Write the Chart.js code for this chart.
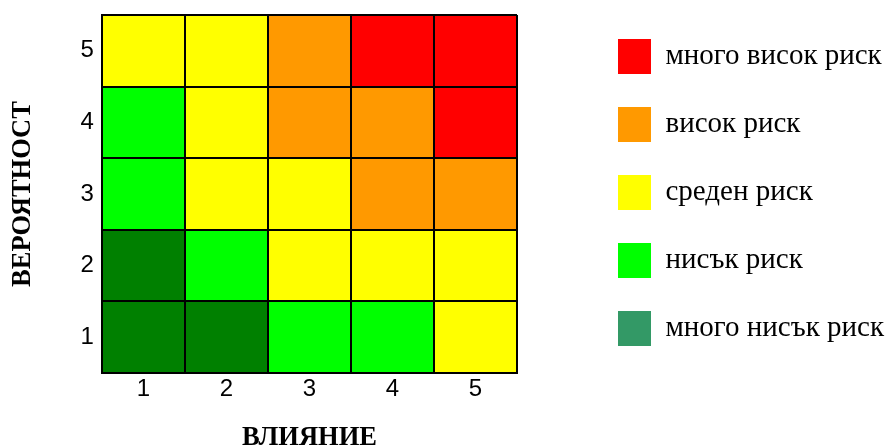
<!DOCTYPE html>
<html>
<head>
<meta charset="utf-8">
<script src="https://cdn.jsdelivr.net/npm/chart.js@4/dist/chart.umd.min.js"></script>
<style>
  body { margin: 0; background: #fff; }
  #wrap { width: 887px; height: 448px; }
</style>
</head>
<body>
<div id="wrap"><canvas id="risk-matrix"></canvas></div>
<script>
// impact (x) and likelihood (y) categories
const impact = ['1', '2', '3', '4', '5'];
const likelihood = [1, 2, 3, 4, 5];

// risk level of each cell, one array per likelihood row (columns = impact 1..5)
// 0 = много нисък, 1 = нисък, 2 = среден, 3 = висок, 4 = много висок
const row1 = [0, 0, 1, 1, 2];
const row2 = [0, 1, 2, 2, 2];
const row3 = [1, 2, 2, 3, 3];
const row4 = [1, 2, 3, 3, 4];
const row5 = [2, 2, 3, 4, 4];
const rows = [row1, row2, row3, row4, row5];

const riskNames = ['много нисък риск', 'нисък риск', 'среден риск', 'висок риск', 'много висок риск'];
const cellColors = ['#008000', '#00ff00', '#ffff00', '#ff9900', '#ff0000'];
const legendColors = ['#339966', '#00ff00', '#ffff00', '#ff9900', '#ff0000'];

const tickFont = { family: '"Liberation Sans", Arial, sans-serif', size: 24 };
const titleFont = { family: '"Liberation Serif", "Times New Roman", serif', size: 26.5, weight: 'bold', lineHeight: 1 };
const lineStyle = { color: '#000', lineWidth: 2, drawTicks: false, offset: true, z: 1 };

new Chart(document.getElementById('risk-matrix'), {
  type: 'bar',
  data: {
    labels: impact,
    datasets: rows.map((levels, i) => ({
      label: 'ред ' + likelihood[i],
      data: levels.map(() => [likelihood[i] - 0.5, likelihood[i] + 0.5]),
      backgroundColor: levels.map((l) => cellColors[l]),
      borderWidth: 0,
      grouped: false,
      barPercentage: 1,
      categoryPercentage: 1,
    })),
  },
  options: {
    responsive: true,
    maintainAspectRatio: false,
    animation: false,
    layout: {
      padding: { top: 6, left: 0, right: 0, bottom: 0 },
    },
    scales: {
      x: {
        offset: true,
        grid: lineStyle,
        border: { display: true, color: '#000', width: 2, z: 1 },
        ticks: { color: '#000', font: tickFont, padding: 2 },
        title: {
          display: true,
          text: 'ВЛИЯНИЕ',
          color: '#000',
          font: titleFont,
          padding: { top: 18.7, bottom: -3 },
        },
      },
      y: {
        min: 0.5,
        max: 5.5,
        afterBuildTicks: (scale) => {
          scale.ticks = likelihood.map((v) => ({ value: v }));
        },
        // plot area starts 15px from the top, the legend 6px higher
        afterFit: (scale) => {
          scale.paddingTop = 15;
          scale.paddingBottom = 0;
        },
        grid: lineStyle,
        border: { display: true, color: '#000', width: 2, z: 1 },
        ticks: { color: '#000', font: tickFont, padding: 8 },
        title: {
          display: true,
          text: 'ВЕРОЯТНОСТ',
          color: '#000',
          font: titleFont,
          padding: { top: 10, bottom: 36 },
        },
      },
      spacer: {
        type: 'linear',
        position: 'right',
        grid: { display: false },
        border: { display: false },
        ticks: { display: false },
        afterFit: (scale) => {
          scale.width = 68;
          scale.paddingTop = 0;
          scale.paddingBottom = 0;
        },
      },
    },
    plugins: {
      tooltip: { enabled: false },
      legend: {
        position: 'right',
        align: 'start',
        maxWidth: 302,
        labels: {
          boxWidth: 33,
          boxHeight: 35,
          padding: 33,
          color: '#000',
          font: { family: '"Liberation Serif", "Times New Roman", serif', size: 29 },
          generateLabels: () =>
            riskNames
              .map((name, i) => ({
                text: name,
                fillStyle: legendColors[i],
                strokeStyle: 'rgba(0,0,0,0)',
                lineWidth: 0,
                fontColor: '#000',
                hidden: false,
                datasetIndex: i,
              }))
              .reverse(),
        },
      },
    },
  },
});
</script>
</body>
</html>
